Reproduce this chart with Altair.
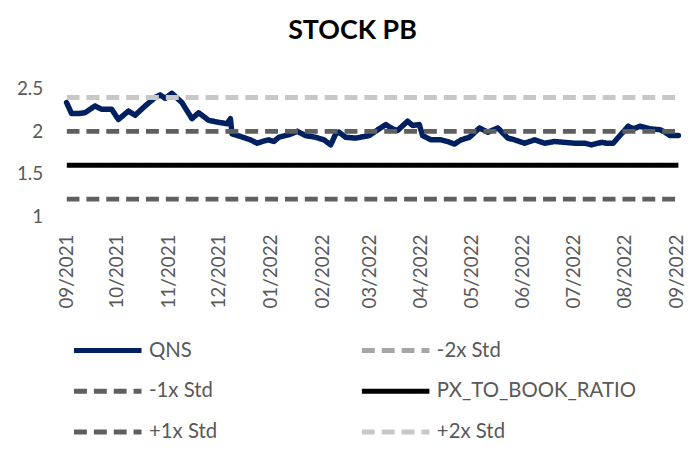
import altair as alt
import pandas as pd

# ---- data ----
qns_dates = [
    "2021-09-01", "2021-09-04", "2021-09-08", "2021-09-12", "2021-09-18", "2021-09-22",
    "2021-09-28", "2021-10-02", "2021-10-08", "2021-10-12", "2021-10-18", "2021-10-24",
    "2021-10-27", "2021-10-30", "2021-11-03", "2021-11-09", "2021-11-15", "2021-11-19",
    "2021-11-25", "2021-11-30", "2021-12-06", "2021-12-08", "2021-12-09", "2021-12-14",
    "2021-12-20", "2021-12-24", "2021-12-27", "2021-12-31", "2022-01-03", "2022-01-06",
    "2022-01-12", "2022-01-17", "2022-01-22", "2022-01-28", "2022-02-02", "2022-02-06",
    "2022-02-09", "2022-02-11", "2022-02-15", "2022-02-21", "2022-03-01", "2022-03-07",
    "2022-03-11", "2022-03-15", "2022-03-18", "2022-03-24", "2022-03-27", "2022-03-31",
    "2022-04-02", "2022-04-07", "2022-04-13", "2022-04-17", "2022-04-21", "2022-04-25",
    "2022-04-30", "2022-05-06", "2022-05-11", "2022-05-17", "2022-05-23", "2022-05-27",
    "2022-06-02", "2022-06-08", "2022-06-14", "2022-06-20", "2022-06-26", "2022-07-02",
    "2022-07-08", "2022-07-12", "2022-07-18", "2022-07-21", "2022-07-25", "2022-07-29",
    "2022-08-03", "2022-08-06", "2022-08-10", "2022-08-16", "2022-08-22", "2022-08-25",
    "2022-08-28", "2022-09-02",
]
qns_values = [
    2.34, 2.21, 2.21, 2.22, 2.30, 2.26,
    2.26, 2.14, 2.24, 2.19, 2.30, 2.40,
    2.43, 2.39, 2.45, 2.34, 2.15, 2.22,
    2.13, 2.11, 2.09, 2.15, 1.97, 1.94,
    1.90, 1.86, 1.88, 1.90, 1.88, 1.93,
    1.96, 2.00, 1.95, 1.93, 1.90, 1.84,
    1.97, 1.99, 1.93, 1.92, 1.95, 2.03,
    2.08, 2.03, 2.01, 2.12, 2.07, 2.08,
    1.95, 1.90, 1.90, 1.88, 1.85, 1.90,
    1.93, 2.04, 1.99, 2.04, 1.92, 1.90,
    1.86, 1.90, 1.86, 1.88, 1.87, 1.86,
    1.86, 1.84, 1.87, 1.86, 1.86, 1.95,
    2.06, 2.03, 2.06, 2.03, 2.02, 1.99,
    1.95, 1.95,
]

level_names = ["-2x Std", "-1x Std", "PX_TO_BOOK_RATIO", "+1x Std", "+2x Std"]
level_values = [0.8, 1.2, 1.6, 2.0, 2.4]

# legend fills column by column: this order gives the reference's rows
series_order = ["QNS", "-1x Std", "+1x Std", "-2x Std", "PX_TO_BOOK_RATIO", "+2x Std"]
series_colors = ["#002060", "#5f5f5f", "#5f5f5f", "#a6a6a6", "#000000", "#c8c8c8"]
series_dashes = [[1, 0], [13, 7], [13, 7], [13, 7], [1, 0], [13, 7]]

x_tick_months = [(2021, 9), (2021, 10), (2021, 11), (2021, 12), (2022, 1), (2022, 2),
                 (2022, 3), (2022, 4), (2022, 5), (2022, 6), (2022, 7), (2022, 8), (2022, 9)]
y_ticks = [1, 1.5, 2, 2.5]

# ---- tables ----
qns_df = pd.DataFrame({
    "date": [d + "T00:00" for d in qns_dates],
    "value": qns_values,
    "series": ["QNS"] * len(qns_values),
})
start, end = qns_df["date"].iloc[0], qns_df["date"].iloc[-1]
lvl_rows = []
for n, v in zip(level_names, level_values):
    lvl_rows.append({"date": start, "value": v, "series": n})
    lvl_rows.append({"date": end, "value": v, "series": n})
lvl_df = pd.DataFrame(lvl_rows)

FONT = "Lato"
GRAY = "#595959"

legend = alt.Legend(
    title=None, orient="none", legendX=6, legendY=251, columns=2,
    columnPadding=135, rowPadding=18, padding=0,
    symbolType="M-3.4,0H3.4", symbolSize=400, symbolStrokeWidth=5,
    symbolOffset=23, labelOffset=29, labelLimit=400,
    labelFont=FONT, labelFontSize=20.5, labelColor=GRAY,
)

x_enc = alt.X(
    "date:T",
    scale=alt.Scale(domain=[alt.DateTime(year=2021, month=9, date=1),
                            alt.DateTime(year=2022, month=9, date=3)]),
    axis=alt.Axis(
        values=[alt.DateTime(year=y, month=m, date=1) for y, m in x_tick_months],
        format="%m/%Y", labelAngle=270, title=None, labelPadding=18,
        labelFlush=False, labelOverlap=False,
    ),
)
y_enc = alt.Y(
    "value:Q",
    scale=alt.Scale(domain=[1, 2.5], nice=False, zero=False),
    axis=alt.Axis(values=y_ticks, format="~g", title=None, labelPadding=24),
)
color_enc = alt.Color("series:N", scale=alt.Scale(domain=series_order, range=series_colors), legend=legend)
dash_enc = alt.StrokeDash("series:N", scale=alt.Scale(domain=series_order, range=series_dashes), legend=legend)

qns_layer = alt.Chart(qns_df).mark_line(strokeWidth=5.5, strokeJoin="round", strokeCap="round").encode(
    x=x_enc, y=y_enc, color=color_enc, strokeDash=dash_enc
)
lvl_layer = alt.Chart(lvl_df).mark_line(strokeWidth=5, clip=True).encode(
    x=x_enc, y=y_enc, color=color_enc, strokeDash=dash_enc
)

chart = (
    alt.layer(qns_layer, lvl_layer)
    .properties(
        width=618, height=128,
        autosize=alt.AutoSizeParams(type="none"),
        padding={"left": 59, "top": 80, "right": 8, "bottom": 228},
        title=alt.TitleParams(
            "STOCK PB", font=FONT, fontSize=27, fontWeight="bold", color="#000000",
            anchor="middle", frame="group", dx=-21, baseline="alphabetic", offset=14,
        ),
    )
    .configure_view(stroke=None)
    .configure_axis(
        domain=False, ticks=False, grid=False,
        labelFont=FONT, labelFontSize=19, labelColor=GRAY,
    )
)

chart.save("out.html", embed_options={"renderer": "svg", "actions": False})
